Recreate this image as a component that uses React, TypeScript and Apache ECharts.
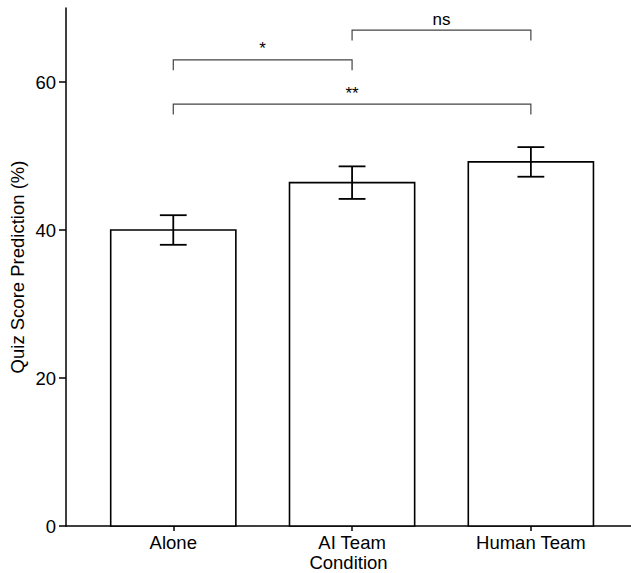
import React, { useEffect, useRef } from "react";
import * as echarts from "echarts";

const categories = ["Alone", "AI Team", "Human Team"];
const categoryPositions = [1, 2, 3];
const means = [40.0, 46.4, 49.2];
const stdErrors = [2.0, 2.2, 2.0];
const yTicks = [0, 20, 40, 60];

const bracketStart = [1, 2, 1];
const bracketEnd = [2, 3, 3];
const bracketY = [63, 67, 57];
const bracketLabels = ["*", "ns", "**"];
const bracketTip = 1.4;

const FONT = "'Liberation Sans', Arial, Helvetica, sans-serif";
const FS = 18.5;

export default function App() {
  const ref = useRef<HTMLDivElement>(null);
  useEffect(() => {
    if (!ref.current) return;
    const chart = echarts.init(ref.current, null, { renderer: "svg" });
    const barData = categoryPositions.map((x, i) => [x, means[i]]);
    const errData = categoryPositions.map((x, i) => [x, means[i] - stdErrors[i], means[i] + stdErrors[i]]);
    const brData = bracketStart.map((s, i) => [s, bracketEnd[i], bracketY[i], i]);
    chart.setOption({
      animation: false,
      backgroundColor: "#fff",
      textStyle: { fontFamily: FONT },
      grid: { left: 66, right: 0, top: 8, bottom: 47, containLabel: false, outerBoundsMode: "none" },
      xAxis: {
        type: "value",
        min: 0.4,
        max: 3.56,
        name: "Condition",
        nameLocation: "middle",
        nameGap: 27,
        nameMoveOverlap: false,
        nameTextStyle: { fontSize: FS, color: "#000", fontFamily: FONT },
        axisLine: { show: true, lineStyle: { color: "#000", width: 1.5 } },
        axisTick: { show: true, customValues: categoryPositions, length: 5, lineStyle: { color: "#000", width: 1.5 } },
        axisLabel: {
          customValues: categoryPositions,
          formatter: (v: number) => categories[Math.round(v) - 1] ?? "",
          fontSize: FS,
          color: "#000",
          margin: 7,
          fontFamily: FONT,
        },
        splitLine: { show: false },
      },
      yAxis: {
        type: "value",
        min: 0,
        max: 70,
        interval: 20,
        name: "Quiz Score Prediction (%)",
        nameLocation: "middle",
        nameGap: 39,
        nameMoveOverlap: false,
        nameTextStyle: { fontSize: FS, color: "#000", fontFamily: FONT },
        axisLine: { show: true, lineStyle: { color: "#000", width: 1.5 } },
        axisTick: { show: true, customValues: yTicks, length: 7, lineStyle: { color: "#000", width: 1.5 } },
        axisLabel: {
          customValues: yTicks,
          fontSize: FS,
          color: "#000",
          margin: 10,
          fontFamily: FONT,
        },
        splitLine: { show: false },
      },
      series: [
        {
          type: "custom",
          data: barData,
          renderItem: (params: any, api: any) => {
            const x = api.value(0);
            const y = api.value(1);
            const tl = api.coord([x - 0.35, y]);
            const br = api.coord([x + 0.35, 0]);
            return {
              type: "rect",
              shape: { x: tl[0], y: tl[1], width: br[0] - tl[0], height: br[1] - tl[1] },
              style: { fill: "#fff", stroke: "#000", lineWidth: 1.6 },
            };
          },
          z: 2,
        },
        {
          type: "custom",
          data: errData,
          renderItem: (params: any, api: any) => {
            const x = api.value(0);
            const lo = api.coord([x, api.value(1)]);
            const hi = api.coord([x, api.value(2)]);
            const cap = api.size([0.075, 0])[0];
            const st = { stroke: "#000", lineWidth: 1.8, fill: "none" };
            return {
              type: "group",
              children: [
                { type: "line", shape: { x1: lo[0], y1: lo[1], x2: hi[0], y2: hi[1] }, style: st },
                { type: "line", shape: { x1: lo[0] - cap, y1: lo[1], x2: lo[0] + cap, y2: lo[1] }, style: st },
                { type: "line", shape: { x1: hi[0] - cap, y1: hi[1], x2: hi[0] + cap, y2: hi[1] }, style: st },
              ],
            };
          },
          z: 3,
        },
        {
          type: "custom",
          data: brData,
          renderItem: (params: any, api: any) => {
            const s = api.value(0);
            const e = api.value(1);
            const yv = api.value(2);
            const idx = api.value(3);
            const p1 = api.coord([s, yv - bracketTip]);
            const p2 = api.coord([s, yv]);
            const p3 = api.coord([e, yv]);
            const p4 = api.coord([e, yv - bracketTip]);
            return {
              type: "group",
              children: [
                {
                  type: "polyline",
                  shape: { points: [p1, p2, p3, p4] },
                  style: { stroke: "#444", lineWidth: 1.2, fill: "none" },
                },
                {
                  type: "text",
                  x: (p2[0] + p3[0]) / 2,
                  y: p2[1] - 11,
                  style: {
                    text: bracketLabels[idx],
                    fill: "#000",
                    fontSize: 17,
                    fontFamily: FONT,
                    align: "center",
                    verticalAlign: "middle",
                  },
                },
              ],
            };
          },
          z: 4,
        },
      ],
    });
    return () => chart.dispose();
  }, []);
  return (
    <div
      ref={ref}
      style={{ position: "fixed", left: 0, top: 0, width: 631, height: 573, background: "#fff" }}
    />
  );
}
